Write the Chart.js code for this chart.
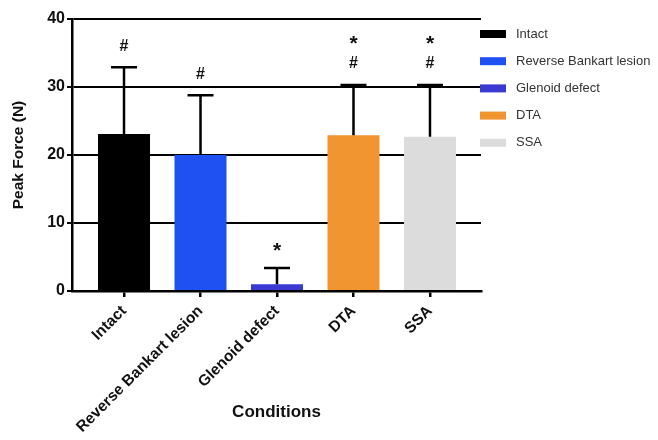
<!DOCTYPE html>
<html><head><meta charset="utf-8">
<script src="https://cdn.jsdelivr.net/npm/chart.js@4/dist/chart.umd.min.js"></script>
<style>html,body{margin:0;padding:0;background:#fff}#wrap{width:658px;height:440px}</style>
</head><body><div id="wrap"><canvas id="c"></canvas></div>
<script>
const categories = ['Intact', 'Reverse Bankart lesion', 'Glenoid defect', 'DTA', 'SSA'];
const means = [23.1, 20.0, 1.0, 22.9, 22.7];
const sds = [9.8, 8.8, 2.4, 7.4, 7.6];
const marks = [['#'], ['#'], ['*'], ['*', '#'], ['*', '#']];
const colors = ['#000000', '#1f50f2', '#3a3ad2', '#f0952f', '#dcdcdc'];
const yTicks = [0, 10, 20, 30, 40];

const errPlugin = {
  id: 'err',
  afterDatasetsDraw(chart) {
    const ctx = chart.ctx, xs = chart.scales.x, ys = chart.scales.y;
    ctx.save();
    ctx.strokeStyle = '#000'; ctx.lineWidth = 2.5; ctx.lineCap = 'butt';
    means.forEach((m, i) => {
      const x = xs.getPixelForValue(i);
      const y0 = ys.getPixelForValue(m), y1 = ys.getPixelForValue(m + sds[i]);
      ctx.beginPath(); ctx.moveTo(x, y0); ctx.lineTo(x, y1);
      ctx.moveTo(x - 13, y1); ctx.lineTo(x + 13, y1); ctx.stroke();
      ctx.fillStyle = '#111'; ctx.textAlign = 'center'; ctx.textBaseline = 'middle';
      const ms = marks[i];
      ms.slice().reverse().forEach((s, k) => {
        ctx.font = s === '*' ? 'bold 21px Arial' : 'bold 16px Arial';
        const yy = y1 - 21 - k * 24 + (s === '*' ? 4 : 0);
        ctx.fillText(s, x, yy);
      });
    });
    ctx.restore();
  }
};

const legendPlugin = {
  id: 'customLegend',
  afterDraw(chart) {
    const ctx = chart.ctx;
    const x0 = chart.chartArea.right - 1;
    ctx.save();
    ctx.font = '13px Arial';
    ctx.textAlign = 'left'; ctx.textBaseline = 'middle';
    categories.forEach((c, i) => {
      const cy = 34 + i * 27.2;
      ctx.fillStyle = colors[i];
      ctx.fillRect(x0, cy - 4, 26, 8);
      ctx.fillStyle = '#333';
      ctx.fillText(c, x0 + 36, cy);
    });
    ctx.restore();
  }
};

new Chart(document.getElementById('c'), {
  type: 'bar',
  data: {
    datasets: [{
      data: means.map((v, i) => ({ x: i, y: v })),
      backgroundColor: colors,
      barPercentage: 0.68,
      categoryPercentage: 1
    }]
  },
  options: {
    responsive: true, maintainAspectRatio: false, animation: false,
    layout: { padding: { top: 19, right: 177, left: 0, bottom: 0 } },
    plugins: { tooltip: { enabled: false }, legend: { display: false } },
    scales: {
      x: {
        type: 'linear', min: -0.68, max: 4.667, offset: false,
        afterBuildTicks: s => { s.ticks = categories.map((c, i) => ({ value: i })); },
        afterFit: s => { s.height = 149; },
        border: { display: true, color: '#000', width: 2.5 },
        grid: { display: true, drawOnChartArea: false, drawTicks: true, tickLength: 6, color: '#000', lineWidth: 2.5, offset: false },
        ticks: {
          autoSkip: false, minRotation: 45, maxRotation: 45, padding: 5,
          font: { family: 'Arial', size: 15.5, weight: 'bold' }, color: '#111',
          callback: v => categories[v]
        },
        title: { display: true, text: 'Conditions', font: { family: 'Arial', size: 17, weight: 'bold' }, color: '#111', padding: { top: 0, bottom: 17 } }
      },
      y: {
        min: 0, max: 40,
        afterBuildTicks: s => { s.ticks = yTicks.map(v => ({ value: v })); },
        afterFit: s => { s.width = 72; },
        border: { display: true, color: '#000', width: 2.5 },
        grid: { color: '#000', lineWidth: 2, tickLength: 5 },
        ticks: { padding: 2, font: { family: 'Arial', size: 16, weight: 'bold' }, color: '#111' },
        title: { display: true, text: 'Peak Force (N)', font: { family: 'Arial', size: 15.5, weight: 'bold' }, color: '#111', padding: { top: 9, bottom: 0 } }
      }
    }
  },
  plugins: [errPlugin, legendPlugin]
});
</script></body></html>
